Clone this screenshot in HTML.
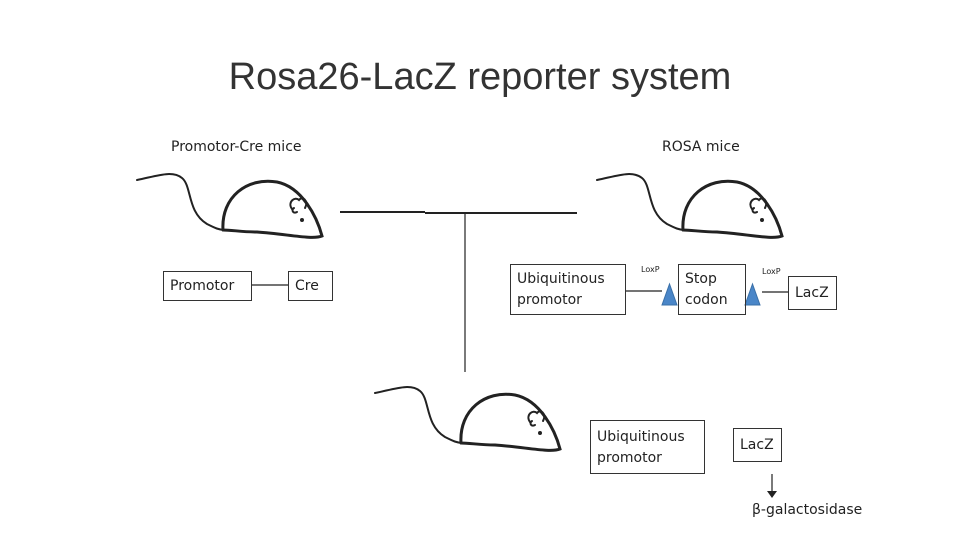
<!DOCTYPE html>
<html><head><meta charset="utf-8"><style>
body{margin:0;background:#fff;}
.wrap{position:relative;width:960px;height:540px;overflow:hidden;font-family:"DejaVu Sans",sans-serif;color:#222;}
.t{position:absolute;white-space:nowrap;}
.box{position:absolute;border:1px solid #333;box-sizing:border-box;font-size:14px;line-height:21px;padding:2px 6px;}
</style></head><body><div class="wrap">
<div class="t" style="left:0;width:960px;text-align:center;top:56px;font-size:38px;font-family:'Liberation Sans',sans-serif;color:#333;">Rosa26-LacZ reporter system</div>
<div class="t" style="left:171px;top:139px;font-size:14px;">Promotor-Cre mice</div>
<div class="t" style="left:662px;top:139px;font-size:14px;">ROSA mice</div>
<svg width="960" height="540" style="position:absolute;left:0;top:0">
<defs><g id="m" fill="none" stroke="#222" stroke-linecap="round">
<path d="M0,8 C20,4 35,-2 45,6 C55,14 50,40 70,52 C78,56 82,58 88,58" stroke-width="2"/>
<path d="M86,58 C84,25 110,5 140,10 C165,15 180,45 185,64 C175,68 150,62 120,60 C105,60 95,58 86,58" stroke-width="3"/>
<path d="M155,37 C150,30 158,24 162,28 C165,24 172,28 168,36 M160,40 C156,42 154,38 157,36" stroke-width="2"/>
<circle cx="165" cy="48" r="1.5" fill="#222"/>
</g></defs>
<use href="#m" transform="translate(137,172)"/>
<use href="#m" transform="translate(597,172)"/>
<use href="#m" transform="translate(375,385)"/>
<g stroke="#222" stroke-width="1.2" fill="none">
<line x1="340" y1="212" x2="425" y2="212" stroke-width="2"/>
<line x1="425" y1="213" x2="577" y2="213" stroke-width="2"/>
<line x1="465" y1="213" x2="465" y2="372"/>
<line x1="251" y1="285" x2="288" y2="285"/>
<line x1="625" y1="291" x2="662" y2="291"/>
<line x1="762" y1="292" x2="788" y2="292"/>
<line x1="772" y1="474" x2="772" y2="492"/>
</g>
<polygon points="767,491 777,491 772,498" fill="#222"/>
<polygon points="662,305 677,305 669.5,284" fill="#4a86c8" stroke="#3a70a8"/>
<polygon points="745,305 760,305 752.5,284" fill="#4a86c8" stroke="#3a70a8"/>
</svg>
<div class="box" style="left:163px;top:271px;width:89px;height:30px;padding-top:4px;">Promotor</div>
<div class="box" style="left:288px;top:271px;width:45px;height:30px;padding-top:4px;">Cre</div>
<div class="box" style="left:510px;top:264px;width:116px;height:51px;padding-top:4px;">Ubiquitinous<br>promotor</div>
<div class="box" style="left:678px;top:264px;width:68px;height:51px;padding-top:4px;">Stop<br>codon</div>
<div class="box" style="left:788px;top:276px;width:49px;height:34px;padding-top:6px;">LacZ</div>
<div class="t" style="left:641px;top:265px;font-size:8px;">LoxP</div>
<div class="t" style="left:762px;top:267px;font-size:8px;">LoxP</div>
<div class="box" style="left:590px;top:420px;width:115px;height:54px;padding-top:6px;">Ubiquitinous<br>promotor</div>
<div class="box" style="left:733px;top:428px;width:49px;height:34px;padding-top:6px;">LacZ</div>
<div class="t" style="left:752px;top:502px;font-size:14px;">β-galactosidase</div>
</div></body></html>
